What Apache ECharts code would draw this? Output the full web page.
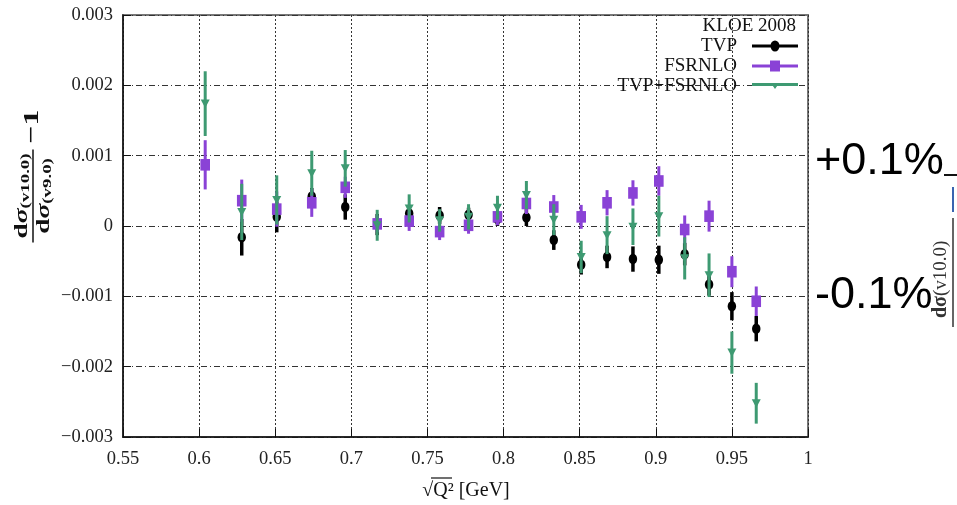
<!DOCTYPE html>
<html><head><meta charset="utf-8">
<script src="https://cdn.jsdelivr.net/npm/echarts@6/dist/echarts.min.js"></script>
<style>html,body{margin:0;padding:0;background:#fff}#c{width:957px;height:505px}</style>
</head><body><div id="c"></div>
<script>
// ---- data ----
var xTickLabels = ['0.55','0.6','0.65','0.7','0.75','0.8','0.85','0.9','0.95','1'];
var yTickLabels = ['\u22120.003','\u22120.002','\u22120.001','0','0.001','0.002','0.003'];
var q = [0.604,0.628,0.651,0.674,0.696,0.717,0.738,0.758,0.777,0.796,0.815,0.833,0.851,0.868,0.885,0.902,0.919,0.935,0.950,0.966];
var tvpVal = [null,-0.00016,0.00013,0.00042,0.00027,0.00002,0.00018,0.00015,0.00016,0.00010,0.00012,-0.00020,-0.00055,-0.00044,-0.00047,-0.00048,-0.00040,-0.00083,-0.00114,-0.00146];
var tvpErr = [null,0.00026,0.00022,0.00012,0.00018,0.00015,0.00012,0.00012,0.00010,0.00010,0.00012,0.00014,0.00014,0.00016,0.00018,0.00020,0.00016,0.00016,0.00020,0.00018];
var fsrVal = [0.00087,0.00036,0.00024,0.00033,0.00055,0.00003,0.00007,-0.00008,0.00001,0.00013,0.00032,0.00027,0.00013,0.00033,0.00047,0.00064,-0.00005,0.00014,-0.00065,-0.00107];
var fsrErr = [0.00035,0.00030,0.00025,0.00020,0.00015,0.00012,0.00014,0.00012,0.00012,0.00012,0.00015,0.00017,0.00017,0.00018,0.00018,0.00021,0.00020,0.00022,0.00022,0.00021];
var bothVal = [0.00174,0.00020,0.00037,0.00075,0.00082,0.00001,0.00025,0.00008,0.00013,0.00026,0.00044,0.00009,-0.00044,-0.00013,-0.00001,0.00014,-0.00046,-0.00070,-0.00180,-0.00252];
var bothErr = [0.00046,0.00040,0.00035,0.00032,0.00026,0.00022,0.00020,0.00016,0.00018,0.00017,0.00020,0.00022,0.00023,0.00027,0.00026,0.00029,0.00030,0.00031,0.00030,0.00029];
var seriesNames = ['TVP','FSRNLO','TVP+FSRNLO'];

var C_TVP = '#000000', C_FSR = '#8A42D6', C_BOTH = '#3E9A72';
var SERIF = '"Liberation Serif","DejaVu Serif",serif';

function pack(vals, errs){
  var out = [];
  for (var i=0;i<q.length;i++){ if (vals[i]!==null) out.push([q[i], vals[i], errs[i]]); }
  return out;
}
function render(kind, color, lw){
  return function(params, api){
    var x = api.value(0), y = api.value(1), e = api.value(2);
    var p = api.coord([x,y]), hi = api.coord([x,y+e]), lo = api.coord([x,y-e]);
    var marker;
    if (kind==='circle') marker = {type:'ellipse', shape:{cx:p[0],cy:p[1],rx:4.2,ry:5.2}, style:{fill:color}};
    else if (kind==='square') marker = {type:'rect', shape:{x:p[0]-4.8,y:p[1]-5.8,width:9.6,height:11.6}, style:{fill:color}};
    else marker = {type:'polygon', shape:{points:[[p[0]-4.5,p[1]-4],[p[0]+4.5,p[1]-4],[p[0],p[1]+4.5]]}, style:{fill:color}};
    return {type:'group', children:[
      {type:'line', shape:{x1:p[0],y1:hi[1],x2:p[0],y2:lo[1]}, style:{stroke:color,lineWidth:lw}},
      marker
    ]};
  };
}

var chart = echarts.init(document.getElementById('c'), null, {renderer:'canvas'});
var legendBase = {orient:'vertical', right:159, align:'right', padding:0, itemGap:0,
  textStyle:{fontFamily:SERIF, fontSize:19, color:'#111', lineHeight:20, padding:[0,10,0,0]},
  selectedMode:false};
chart.setOption({
  animation:false,
  grid:{left:123, right:149, top:15, bottom:68, show:true, borderColor:'#777', borderWidth:2},
  legend:[
    Object.assign({}, legendBase, {top:36, itemWidth:46, itemHeight:11, data:[{name:seriesNames[0], icon:'path://M0,4h19v3h-19z M27,4h19v3h-19z M18.5,5.5a4.5,5.5 0 1,1 9,0a4.5,5.5 0 1,1 -9,0z'}]}),
    Object.assign({}, legendBase, {top:56, itemWidth:46, itemHeight:11, data:[{name:seriesNames[1], icon:'path://M0,4h18v3h-18z M28,4h18v3h-18z M18,0h10v11h-10z'}]}),
    Object.assign({}, legendBase, {top:76, itemWidth:46, itemHeight:7, data:[{name:seriesNames[2], icon:'path://M0,1h46v3h-46z M19.5,2h7l-3.5,5z'}]})
  ],
  xAxis:{type:'value', min:0.55, max:1, interval:0.05,
    axisLine:{show:true, onZero:false, lineStyle:{color:'#111', width:1.5}},
    axisTick:{show:true, inside:true, length:8, lineStyle:{color:'#111'}},
    axisLabel:{margin:13, fontFamily:SERIF, fontSize:18.5, color:'#222',
      formatter:function(v){ return xTickLabels[Math.round((v-0.55)/0.05)]; }},
    splitLine:{show:true, lineStyle:{color:'#333', width:1, type:[2,2]}}
  },
  yAxis:{type:'value', min:-0.003, max:0.003, interval:0.001,
    axisLine:{show:true, onZero:false, lineStyle:{color:'#111', width:1.5}},
    axisTick:{show:true, inside:true, length:8, lineStyle:{color:'#111'}},
    axisLabel:{margin:10, fontFamily:SERIF, fontSize:18.5, color:'#222',
      formatter:function(v){ return yTickLabels[Math.round((v+0.003)/0.001)]; }},
    splitLine:{show:true, lineStyle:{color:'#333', width:1, type:[6,3,1,3]}}
  },
  series:[
    {name:seriesNames[0], type:'custom', renderItem:render('circle', C_TVP, 3.5), data:pack(tvpVal,tvpErr), itemStyle:{color:C_TVP}, encode:{x:0,y:1}},
    {name:seriesNames[1], type:'custom', renderItem:render('square', C_FSR, 3), data:pack(fsrVal,fsrErr), itemStyle:{color:C_FSR}, encode:{x:0,y:1}},
    {name:seriesNames[2], type:'custom', renderItem:render('tri', C_BOTH, 3), data:pack(bothVal,bothErr), itemStyle:{color:C_BOTH}, encode:{x:0,y:1}}
  ],
  graphic:[
    {type:'text', x:796, y:26, style:{text:'KLOE 2008', font:'19px '+SERIF, fill:'#111', align:'right', verticalAlign:'middle'}},
    // x-axis title
    {type:'text', x:466, y:491, style:{text:'\u221AQ\u00B2 [GeV]', font:'20px '+SERIF, fill:'#111', align:'center', verticalAlign:'middle'}},
    {type:'line', shape:{x1:431, y1:478, x2:452, y2:478}, style:{stroke:'#111', lineWidth:1.2}},
    // y-axis title (rotated fraction)
    {type:'group', x:33, y:196, rotation:Math.PI/2, scaleX:1.45, scaleY:1, children:[
      {type:'text', x:0, y:-1, style:{text:'{d|d}{s|\u03C3}{b|(v10.0)}', align:'center', verticalAlign:'bottom', fill:'#111',
        rich:{d:{fontFamily:SERIF, fontWeight:'bold', fontSize:19, fill:'#111'}, s:{fontFamily:SERIF, fontWeight:'bold', fontStyle:'italic', fontSize:19, fill:'#111'}, b:{fontFamily:SERIF, fontWeight:'bold', fontSize:13, fill:'#111', padding:[6,0,0,0]}}}},
      {type:'line', shape:{x1:-32, y1:0, x2:32, y2:0}, style:{stroke:'#111', lineWidth:1.5}},
      {type:'text', x:0, y:2, style:{text:'{d|d}{s|\u03C3}{b|(v9.0)}', align:'center', verticalAlign:'top', fill:'#111',
        rich:{d:{fontFamily:SERIF, fontWeight:'bold', fontSize:19, fill:'#111'}, s:{fontFamily:SERIF, fontWeight:'bold', fontStyle:'italic', fontSize:19, fill:'#111'}, b:{fontFamily:SERIF, fontWeight:'bold', fontSize:13, fill:'#111', padding:[6,0,0,0]}}}},
      {type:'text', x:36, y:-1, style:{text:'\u22121', font:'bold 22px '+SERIF, fill:'#111', align:'left', verticalAlign:'middle'}}
    ]},
    // side annotations
    {type:'group', x:941, y:318, rotation:Math.PI/2, children:[
      {type:'text', x:0, y:0, style:{text:'{d|d\u03C3}{b|(v10.0)}', align:'left', verticalAlign:'middle',
        rich:{d:{fontFamily:SERIF, fontWeight:'bold', fontSize:20, fill:'#333'}, b:{fontFamily:SERIF, fontSize:19, fill:'#333'}}}}
    ]},
    {type:'text', x:815, y:162, style:{text:'+0.1%', font:'45px "Liberation Sans", Arial, sans-serif', fill:'#000', align:'left', verticalAlign:'middle'}},
    {type:'text', x:815, y:296, style:{text:'-0.1%', font:'45px "Liberation Sans", Arial, sans-serif', fill:'#000', align:'left', verticalAlign:'middle'}},
    {type:'line', shape:{x1:953, y1:218, x2:953, y2:327}, style:{stroke:'#333', lineWidth:1.5}},
    {type:'line', shape:{x1:953, y1:187, x2:953, y2:212}, style:{stroke:'#3a64b0', lineWidth:2}},
    {type:'line', shape:{x1:944, y1:175, x2:957, y2:175}, style:{stroke:'#111', lineWidth:2}}
  ]
});
</script></body></html>
